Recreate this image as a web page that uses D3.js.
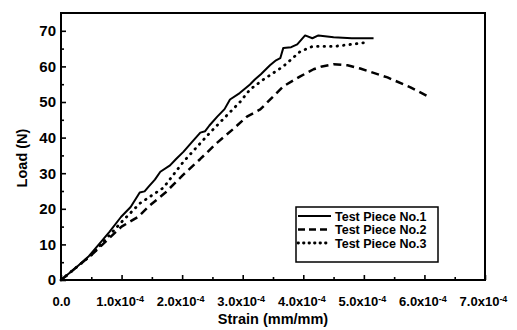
<!DOCTYPE html>
<html>
<head>
<meta charset="utf-8">
<script src="https://cdn.jsdelivr.net/npm/d3@7"></script>
<style>
  body { margin: 0; background: #fff; }
  svg { display: block; font-family: "Liberation Sans", Arial, sans-serif; font-weight: bold; }
</style>
</head>
<body>
<div class="plot-item"></div>
<script>
// strain in mm/mm, load in N
var strain1 = [0, 0.25e-4, 0.45e-4, 0.65e-4, 0.8e-4, 0.99e-4, 1.15e-4, 1.3e-4, 1.38e-4, 1.45e-4, 1.55e-4, 1.64e-4, 1.8e-4, 1.9e-4, 2.02e-4, 2.15e-4, 2.3e-4, 2.38e-4, 2.45e-4, 2.58e-4, 2.7e-4, 2.79e-4, 2.95e-4, 3.12e-4, 3.2e-4, 3.3e-4, 3.45e-4, 3.55e-4, 3.62e-4, 3.67e-4, 3.8e-4, 3.9e-4, 4.03e-4, 4.15e-4, 4.25e-4, 4.5e-4, 4.8e-4, 5.16e-4];
var load1 = [0, 3.5, 6.5, 10.5, 13.5, 17.7, 20.5, 24.6, 24.9, 26.3, 28.2, 30.4, 32.2, 34.0, 36.0, 38.5, 41.4, 41.8, 43.4, 45.9, 48.0, 50.7, 52.5, 54.9, 56.3, 57.8, 60.3, 61.7, 62.3, 65.2, 65.4, 66.2, 68.7, 67.9, 68.7, 68.2, 67.9, 67.9];

var strain2 = [0, 0.5e-4, 1.0e-4, 1.27e-4, 1.47e-4, 1.72e-4, 2.02e-4, 2.3e-4, 2.58e-4, 2.85e-4, 3.07e-4, 3.29e-4, 3.5e-4, 3.67e-4, 3.95e-4, 4.17e-4, 4.31e-4, 4.5e-4, 4.73e-4, 4.94e-4, 5.39e-4, 5.77e-4, 6.07e-4];
var load2 = [0, 7.0, 15.0, 17.7, 21.0, 24.5, 29.6, 34.0, 38.6, 42.5, 45.9, 47.9, 51.5, 54.4, 57.2, 59.2, 60.0, 60.6, 60.3, 59.4, 56.9, 54.1, 51.5];

var strain3 = [0, 0.5e-4, 1.0e-4, 1.3e-4, 1.69e-4, 2.02e-4, 2.46e-4, 2.96e-4, 3.12e-4, 3.34e-4, 3.67e-4, 3.95e-4, 4.15e-4, 4.5e-4, 4.94e-4, 5.06e-4];
var load3 = [0, 7.0, 16.3, 21.5, 25.9, 33.2, 41.4, 50.1, 53.5, 56.3, 60.0, 64.2, 65.6, 65.6, 66.5, 66.8];

var seriesNames = ["Test Piece No.1", "Test Piece No.2", "Test Piece No.3"];
var xTicks = [0, 1e-4, 2e-4, 3e-4, 4e-4, 5e-4, 6e-4, 7e-4];
var yTicks = [0, 10, 20, 30, 40, 50, 60, 70];

var w = 517;
var h = 330;
var margin = { top: 13, bottom: 50, left: 61, right: 32 };
var width = w - margin.left - margin.right;
var height = h - margin.top - margin.bottom;

var svg = d3.select(".plot-item").append("svg")
  .attr("width", w)
  .attr("height", h);
var chart = svg.append("g")
  .attr("transform", "translate(" + margin.left + "," + margin.top + ")");

var x = d3.scaleLinear().domain([0, 7e-4]).range([0, width]);
var y = d3.scaleLinear().domain([0, 75]).range([height, 0]);

// minor ticks
chart.append("g")
  .attr("transform", "translate(0," + height + ")")
  .call(d3.axisBottom(x).tickValues(d3.range(0.5e-4, 7e-4, 1e-4)).tickSize(-3).tickFormat(""));
chart.append("g")
  .call(d3.axisLeft(y).tickValues(d3.range(5, 75, 10)).tickSize(-3).tickFormat(""));

// major ticks
var xAxisG = chart.append("g")
  .attr("class", "axis x")
  .attr("transform", "translate(0," + height + ")")
  .call(d3.axisBottom(x).tickValues(xTicks).tickSize(-5).tickFormat(""));
var yAxisG = chart.append("g")
  .attr("class", "axis y")
  .call(d3.axisLeft(y).tickValues(yTicks).tickSize(-5));

chart.selectAll(".domain").remove();
chart.selectAll(".tick line").attr("stroke", "#000").attr("stroke-width", 1.6);

yAxisG.selectAll(".tick text")
  .attr("x", -5)
  .style("font-size", "15px")
  .style("font-weight", "bold")
  .attr("fill", "#000");

xAxisG.selectAll(".tick text")
  .style("font-size", "13px")
  .style("font-weight", "bold")
  .attr("fill", "#000")
  .attr("dy", "0.71em")
  .attr("y", 17)
  .each(function(d) {
    var t = d3.select(this);
    if (d === 0) { t.text("0.0"); return; }
    t.attr("text-anchor", "middle").attr("dx", -2);
    t.append("tspan").text((d / 1e-4).toFixed(1) + "x10");
    t.append("tspan").attr("dy", "-0.45em").style("font-size", "9px").text("-4");
  });

// frame
chart.append("rect")
  .attr("x", 0).attr("y", 0)
  .attr("width", width).attr("height", height)
  .attr("fill", "none")
  .attr("stroke", "#000")
  .attr("stroke-width", 2);

var line = d3.line()
  .x(function(d) { return x(d[0]); })
  .y(function(d) { return y(d[1]); });

var styles = [
  { dash: null, width: 2, cap: "butt" },
  { dash: "8 5", width: 2.5, cap: "butt" },
  { dash: "0.5 6", width: 2.8, cap: "round" }
];
var series = [d3.zip(strain1, load1), d3.zip(strain2, load2), d3.zip(strain3, load3)];

chart.selectAll(".result")
  .data(series)
  .enter()
  .append("path")
  .classed("result", true)
  .attr("d", line)
  .attr("fill", "none")
  .attr("stroke", "#000")
  .attr("stroke-width", function(d, i) { return styles[i].width; })
  .attr("stroke-dasharray", function(d, i) { return styles[i].dash; })
  .attr("stroke-linecap", function(d, i) { return styles[i].cap; })
  .attr("stroke-linejoin", "round");

// axis labels
svg.append("text")
  .attr("transform", "translate(22,158) rotate(-90)")
  .attr("text-anchor", "middle")
  .attr("dominant-baseline", "central")
  .style("font-size", "14.5px")
  .text("Load (N)");
svg.append("text")
  .attr("x", margin.left + width / 2)
  .attr("y", 324)
  .attr("text-anchor", "middle")
  .style("font-size", "14.5px")
  .text("Strain (mm/mm)");

// legend
var legend = svg.append("g").attr("transform", "translate(296,207)");
legend.append("rect")
  .attr("width", 142).attr("height", 55)
  .attr("fill", "#fff")
  .attr("stroke", "#000")
  .attr("stroke-width", 1.5);
var rows = legend.selectAll(".legend-row")
  .data(seriesNames)
  .enter()
  .append("g")
  .attr("class", "legend-row")
  .attr("transform", function(d, i) { return "translate(0," + (9 + i * 13.5) + ")"; });
rows.append("line")
  .attr("x1", 2).attr("x2", 35)
  .attr("stroke", "#000")
  .attr("stroke-width", function(d, i) { return styles[i].width; })
  .attr("stroke-dasharray", function(d, i) { return i === 1 ? "7 4" : i === 2 ? "0.5 5" : null; })
  .attr("stroke-linecap", function(d, i) { return styles[i].cap; });
rows.append("text")
  .attr("x", 39)
  .attr("dy", "0.36em")
  .style("font-size", "12.5px")
  .text(function(d) { return d; });
</script>
</body>
</html>
